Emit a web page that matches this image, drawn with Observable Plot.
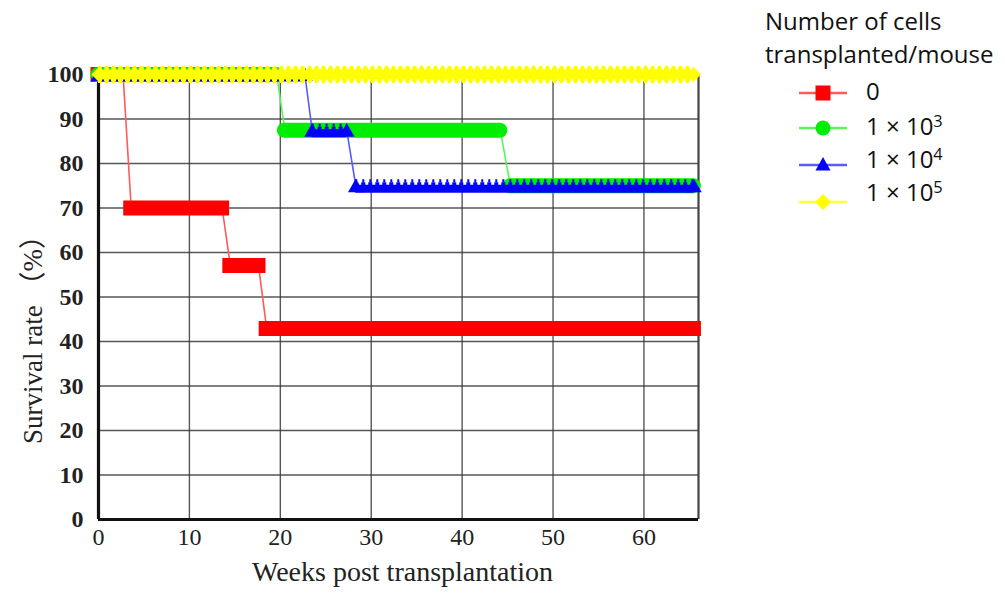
<!DOCTYPE html>
<html>
<head>
<meta charset="utf-8">
<script src="https://cdn.jsdelivr.net/npm/d3@7"></script>
<script src="https://cdn.jsdelivr.net/npm/@observablehq/plot@0.6"></script>
<style>
  html, body { margin: 0; padding: 0; background: #fff; }
  #wrap { position: relative; width: 1005px; height: 605px; }
  #legend { position: absolute; left: 765px; top: 4px; font-family: "Open Sans", "Liberation Sans", sans-serif; font-size: 24px; color: #111; }
  #legend .title { line-height: 33px; white-space: nowrap; }
  #legend .row { position: absolute; left: 0; height: 30px; width: 240px; }
  #legend .row svg { position: absolute; left: 32px; top: 5px; }
  #legend .row span { position: absolute; left: 101px; top: 0px; line-height: 30px; white-space: nowrap; }
  #legend sup { font-size: 0.68em; vertical-align: 0; position: relative; top: -0.5em; }
</style>
</head>
<body>
<div id="wrap">
  <div id="chart"></div>
  <div id="legend"></div>
</div>
<script>
// ---- data ----
const groupKeys = ["0", "1e3", "1e4", "1e5"];
const groupLabelsHtml = ["0", "1 × 10<sup>3</sup>", "1 × 10<sup>4</sup>", "1 × 10<sup>5</sup>"];
const groupColors = ["#ff0000", "#00ee00", "#0000ff", "#ffff00"];
const groupLineColors = ["#ff5a5a", "#5cf55c", "#5a5aff", "#ffff33"];
const groupSymbols = ["square", "circle", "triangle", "diamond2"];

// observed key points: week, survival (%)
const weeksCtrl = [0, 2.7, 3.6, 13.6, 14.5, 17.6, 18.5, 65.5];
const survCtrl  = [100, 100, 70, 70, 57.1, 57.1, 42.9, 42.9];
const weeks1e3  = [0, 19.6, 20.5, 44.2, 45.3, 65.5];
const surv1e3   = [100, 100, 87.5, 87.5, 75, 75];
const weeks1e4  = [0, 22.7, 23.5, 27.3, 28.3, 65.5];
const surv1e4   = [100, 100, 87.5, 87.5, 75, 75];
const weeks1e5  = [0, 65.5];
const surv1e5   = [100, 100];

const xTicks = [0, 10, 20, 30, 40, 50, 60];
const yTicks = [0, 10, 20, 30, 40, 50, 60, 70, 80, 90, 100];

const xTitle = "Weeks post transplantation";
const yTitle = "Survival rate （%）";
const legendTitle = ["Number of cells", "transplanted/mouse"];

// ---- build tables ----
const weeksBy = [weeksCtrl, weeks1e3, weeks1e4, weeks1e5];
const survBy = [survCtrl, surv1e3, surv1e4, surv1e5];
const points = [], segments = [];
groupKeys.forEach((k, gi) => {
  const w = weeksBy[gi], s = survBy[gi];
  w.forEach((wk, i) => points.push({group: k, gi, week: wk, surv: s[i]}));
  for (let i = 0; i < w.length - 1; i++) {
    if (s[i] === s[i + 1]) segments.push({group: k, gi, x1: w[i], x2: w[i + 1], surv: s[i]});
  }
});
const P = gi => points.filter(d => d.gi === gi);
const S = gi => segments.filter(d => d.gi === gi);

const serif = "'Liberation Serif', 'Times New Roman', 'Noto Sans CJK JP', serif";
const band = (gi, opts) => Plot.ruleY(S(gi), {y: "surv", x1: "x1", x2: "x2", stroke: groupColors[gi], ...opts});

const seriesMarks = [
  // control (squares)
  Plot.line(P(0), {x: "week", y: "surv", stroke: groupLineColors[0], strokeWidth: 1.6}),
  band(0, {strokeWidth: 15, strokeLinecap: "square"}),
  // 1e3 (circles)
  Plot.line(P(1), {x: "week", y: "surv", stroke: groupLineColors[1], strokeWidth: 1.6}),
  band(1, {strokeWidth: 15, strokeLinecap: "round"}),
  // 1e4 (triangles)
  Plot.line(P(2), {x: "week", y: "surv", stroke: groupLineColors[2], strokeWidth: 1.6}),
  band(2, {strokeWidth: 8, dy: 3}),
  band(2, {strokeWidth: 3, dy: -2, strokeDasharray: "4,3", strokeDashoffset: 1}),
  band(2, {strokeWidth: 3, dy: -5, strokeDasharray: "2,5"}),
  Plot.dot(P(2), {x: "week", y: "surv", symbol: "triangle", r: 5.8, fill: groupColors[2], dy: 2}),
  // 1e5 (diamonds)
  Plot.line(P(3), {x: "week", y: "surv", stroke: groupLineColors[3], strokeWidth: 1.6}),
  band(3, {strokeWidth: 10}),
  band(3, {strokeWidth: 14, strokeDasharray: "5,2", strokeDashoffset: 1}),
  band(3, {strokeWidth: 17, strokeDasharray: "3,4"}),
  Plot.dot(P(3), {x: "week", y: "surv", symbol: "diamond2", r: 6.4, fill: groupColors[3]})
];

const chart = Plot.plot({
  width: 1005,
  height: 605,
  marginLeft: 98,
  marginRight: 307,
  marginTop: 74,
  marginBottom: 86,
  x: {domain: [0, 66]},
  y: {domain: [0, 100]},
  style: {fontFamily: serif, background: "white", color: "#222"},
  marks: [
    Plot.gridX(xTicks, {stroke: "#3a3a3a", strokeOpacity: 0.85, strokeWidth: 1.4}),
    Plot.gridY(yTicks, {stroke: "#3a3a3a", strokeOpacity: 0.85, strokeWidth: 1.4}),
    Plot.ruleX([66], {stroke: "#444", strokeWidth: 2.2}),
    Plot.ruleX([0], {stroke: "#111", strokeWidth: 3.2}),
    Plot.ruleY([0], {stroke: "#111", strokeWidth: 3.2}),
    Plot.axisX(xTicks, {tickSize: 0, tickPadding: 8, fontSize: 24, label: null, fill: "#222"}),
    Plot.axisY(yTicks, {tickSize: 0, tickPadding: 15, fontSize: 24, fontWeight: "bold", label: null, fill: "#222"}),
    Plot.text([xTitle], {frameAnchor: "bottom", dx: 4, dy: 61, fontSize: 28, fill: "#222"}),
    ...seriesMarks
  ]
});
document.getElementById("chart").appendChild(chart);

// rotated y-axis title
d3.select(chart).append("text")
  .attr("transform", "translate(33,333) rotate(-90)")
  .attr("text-anchor", "middle")
  .attr("dominant-baseline", "central")
  .attr("font-family", serif)
  .attr("font-size", 27)
  .attr("fill", "#222")
  .text(yTitle);

// ---- legend ----
const legend = d3.select("#legend");
legend.selectAll("div.title").data(legendTitle).join("div").attr("class", "title").text(d => d);
const rowTops = [74, 109, 146, 183];
const textTops = [72, 107, 140, 173];
groupKeys.forEach((k, i) => {
  const row = legend.append("div").attr("class", "row").style("top", rowTops[i] + "px");
  const sv = row.append("svg").attr("width", 56).attr("height", 20);
  sv.append("line").attr("x1", 2).attr("x2", 50).attr("y1", 10).attr("y2", 10)
    .attr("stroke", groupLineColors[i]).attr("stroke-width", 2.5);
  const c = groupColors[i];
  if (groupSymbols[i] === "square") sv.append("rect").attr("x", 18.5).attr("y", 2.5).attr("width", 15).attr("height", 15).attr("fill", c);
  if (groupSymbols[i] === "circle") sv.append("circle").attr("cx", 26).attr("cy", 10).attr("r", 7.5).attr("fill", c);
  if (groupSymbols[i] === "triangle") sv.append("path").attr("d", "M26,2 L33.5,15.5 L18.5,15.5 Z").attr("fill", c);
  if (groupSymbols[i] === "diamond2") sv.append("path").attr("d", "M26,2 L34,10 L26,18 L18,10 Z").attr("fill", c);
  row.append("span").style("top", (textTops[i] - rowTops[i]) + "px").html(groupLabelsHtml[i]);
});
</script>
</body>
</html>
